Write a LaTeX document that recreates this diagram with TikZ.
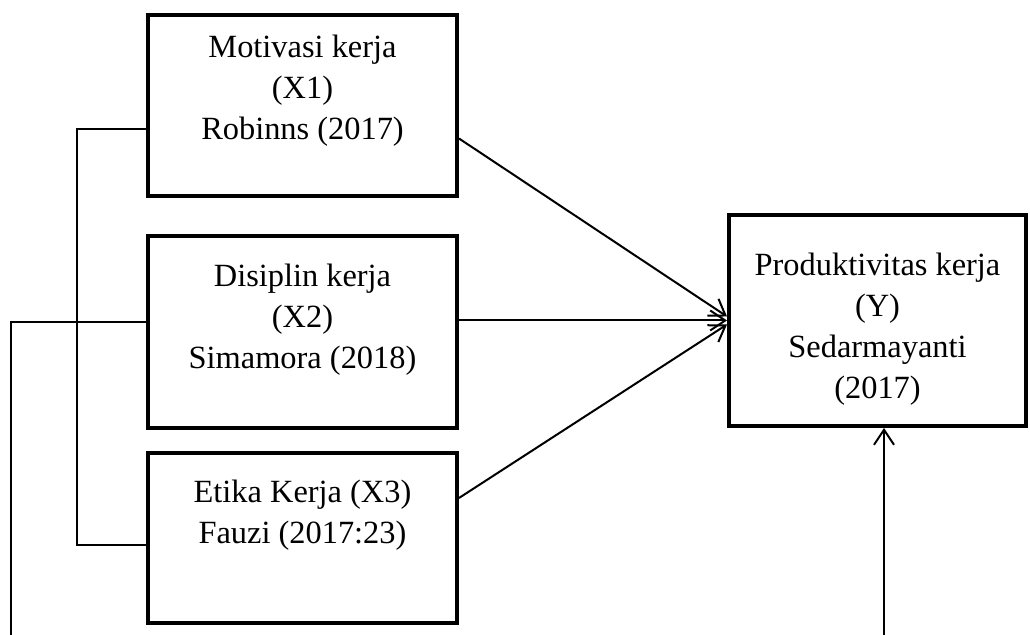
\documentclass[tikz,border=0pt]{standalone}
\usepackage{fontspec}
\setmainfont{Liberation Serif}
\usetikzlibrary{arrows.meta,calc}

\begin{document}
\begin{tikzpicture}[x=0.5pt,y=-0.5pt,
	varbox/.style={draw, line width=2pt, inner sep=0pt},
	vartext/.style={align=center, inner sep=0pt,
		font=\fontsize{16.2}{20.5}\selectfont},
	link/.style={line width=1pt, -{Straight Barb[length=7.5pt,width=10pt]}},
	tie/.style={line width=0.75pt}]

	\useasboundingbox (0,0) rectangle (1030,635);

	\node[varbox, minimum width=309*0.5pt, minimum height=181*0.5pt] (x1) at (302.5,105.5) {};
	\node[varbox, minimum width=309*0.5pt, minimum height=192*0.5pt] (x2) at (302.5,332) {};
	\node[varbox, minimum width=309*0.5pt, minimum height=170*0.5pt] (x3) at (302.5,538) {};
	\node[varbox, minimum width=297*0.5pt, minimum height=211*0.5pt] (y) at (877.5,320.5) {};

	\node[vartext] (t1) at ($(x1)+(0,-15)$) {Motivasi kerja\\(X1)\\Robinns (2017)};
	\node[vartext] (t2) at ($(x2)+(0,-12)$) {Disiplin kerja\\(X2)\\Simamora (2018)};
	\node[vartext] (t3) at ($(x3)+(0,-23)$) {Etika Kerja (X3)\\Fauzi (2017:23)};
	\node[vartext] (ty) at ($(y)+(0,9)$) {Produktivitas kerja\\(Y)\\Sedarmayanti\\(2017)};

	\draw[link] ($(x1.east)+(0,33)$) -- ($(y.west)+(0,-4)$);
	\draw[link] (x2.east |- y.west) -- (y.west);
	\draw[link] ($(x3.east)+(0,-40)$) -- ($(y.west)+(0,4)$);

	% lines on the left
	\draw[tie] ($(x1.west)+(0,23.5)$) -- ++(-69,0) |- ($(x3.west)+(0,7)$);
	\coordinate (b1) at (11,635);
	\draw[tie] ($(x2.west)+(0,-10)$) -| (b1);

	\coordinate (b2) at (884,635);
	\draw[link] (b2) -- (b2 |- y.south);

\end{tikzpicture}
\end{document}
